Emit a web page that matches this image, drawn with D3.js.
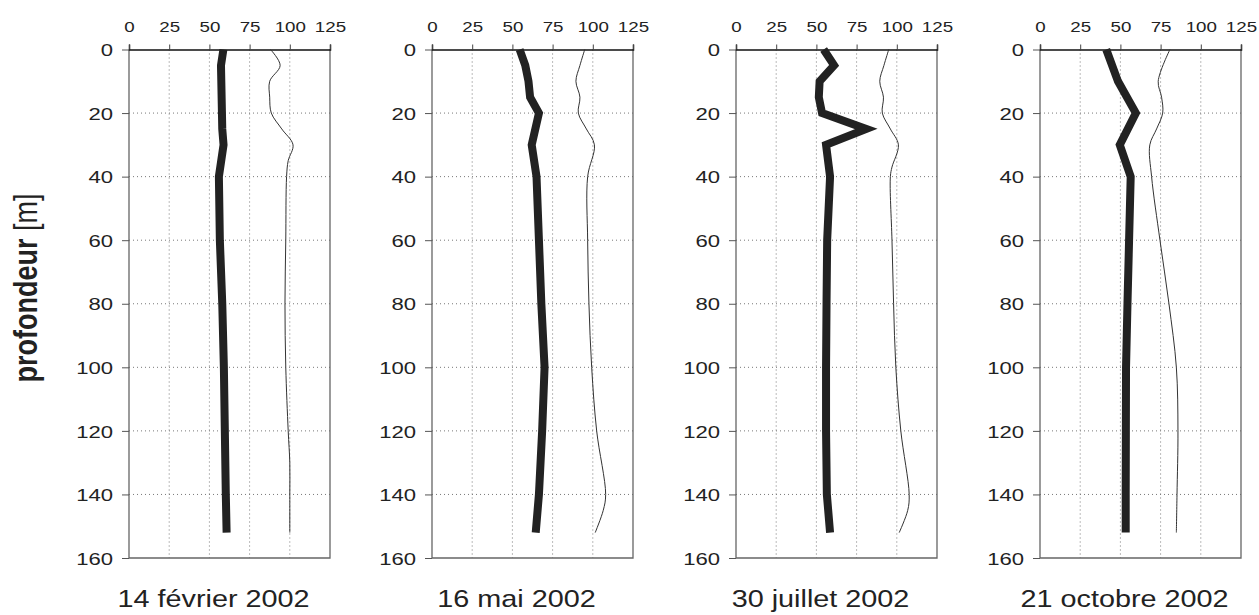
<!DOCTYPE html>
<html>
<head>
<meta charset="utf-8">
<script src="https://cdn.jsdelivr.net/npm/d3@7"></script>
<style>
  html, body { margin: 0; padding: 0; background: #fff; }
  svg { display: block; }
  text { font-family: "Liberation Sans", Arial, sans-serif; fill: #222; }
</style>
</head>
<body>
<svg id="chart" width="1259" height="615"></svg>
<script>
// Sampling depths (m)
const thickDepths1 = [0, 5, 10, 20, 25, 30, 40, 60, 80, 100, 120, 140, 152];
const thickDepths2 = [0, 5, 10, 15, 20, 30, 40, 60, 80, 100, 120, 140, 152];
const thickDepths3 = [0, 5, 10, 15, 20, 25, 30, 40, 60, 80, 100, 120, 140, 152];
const thickDepths4 = [0, 10, 20, 30, 40, 60, 80, 100, 120, 140, 152];

const thinDepths1 = [0, 5, 10, 15, 20, 25, 30, 35, 40, 60, 80, 100, 120, 130, 140, 152];
const thinDepths2 = [0, 5, 10, 15, 20, 25, 30, 40, 60, 80, 100, 120, 140, 145, 152];
const thinDepths3 = [0, 5, 10, 15, 20, 25, 30, 37, 40, 60, 80, 100, 120, 140, 145, 152];
const thinDepths4 = [0, 10, 15, 20, 25, 30, 40, 60, 80, 100, 120, 140, 152];

// Profile values (thick curve)
const thickFeb = [58.7, 57.2, 57.4, 57.8, 58, 58.8, 55.9, 56.5, 58, 59, 59.6, 60.2, 60.7];
const thickMay = [54.5, 58, 60, 61, 66.5, 62, 65, 66.5, 68, 70, 68.5, 66.5, 64.5];
const thickJul = [54.5, 61, 52, 51.5, 53.5, 81, 56, 58.5, 56.7, 56.3, 56, 56, 56.5, 58.5];
const thickOct = [41.2, 48.5, 59.6, 49.6, 56.4, 55.4, 54.4, 53.5, 53.4, 53.3, 53.3];

// Profile values (thin curve)
const thinFeb = [88, 94, 87.5, 87.5, 88.5, 95, 102, 99, 98, 97.5, 97, 97.5, 99, 100, 100, 100];
const thinMay = [95, 92, 89.5, 92, 91, 96, 101, 96.8, 96.8, 97.6, 99.3, 102.4, 108, 106.5, 101.5];
const thinJul = [95, 92, 89.4, 91.7, 91, 96, 101, 97, 96, 97, 98, 99.4, 102.5, 107.7, 106.8, 101.5];
const thinOct = [80.8, 73.5, 75.6, 76.3, 72.5, 68.3, 69.4, 74.6, 80.2, 84.8, 85.8, 85.2, 84.8];

const panelTitles = ["14 février 2002", "16 mai 2002", "30 juillet 2002", "21 octobre 2002"];
const xTicks = [0, 25, 50, 75, 100, 125];
const yTicks = [0, 20, 40, 60, 80, 100, 120, 140, 160];

const panels = [
  { title: panelTitles[0], thick: [thickDepths1, thickFeb], thin: [thinDepths1, thinFeb] },
  { title: panelTitles[1], thick: [thickDepths2, thickMay], thin: [thinDepths2, thinMay] },
  { title: panelTitles[2], thick: [thickDepths3, thickJul], thin: [thinDepths3, thinJul] },
  { title: panelTitles[3], thick: [thickDepths4, thickOct], thin: [thinDepths4, thinOct] }
];

const svg = d3.select("#chart");
const panelLeft = [129, 432, 736, 1040];
const plotW = 201, plotTop = 49.5, plotBottom = 558;
const stretch = 1.25; // horizontal widening of lettering

const y = d3.scaleLinear().domain([0, 160]).range([plotTop, plotBottom]);

// Vertical axis title
svg.append("text")
  .attr("transform", `translate(37,288) scale(${stretch},1) rotate(-90)`)
  .attr("text-anchor", "middle")
  .style("font-size", "27px")
  .call(t => {
    t.append("tspan").style("font-weight", "bold").text("profondeur");
    t.append("tspan").text(" [m]");
  });

panels.forEach((p, i) => {
  const x0 = panelLeft[i];
  const x = d3.scaleLinear().domain([0, 125]).range([x0, x0 + plotW]);
  const g = svg.append("g");

  // dotted grid
  g.append("g").selectAll("line.v")
    .data(xTicks.filter(v => v > 0 && v < 125))
    .join("line")
    .attr("x1", d => x(d)).attr("x2", d => x(d))
    .attr("y1", y(0)).attr("y2", y(160))
    .attr("stroke", "#777").attr("stroke-width", 1)
    .attr("stroke-dasharray", "1,3");
  g.append("g").selectAll("line.h")
    .data(yTicks.filter(v => v > 0 && v < 160))
    .join("line")
    .attr("x1", x(0)).attr("x2", x(125))
    .attr("y1", d => y(d)).attr("y2", d => y(d))
    .attr("stroke", "#777").attr("stroke-width", 1)
    .attr("stroke-dasharray", "1,3");

  // frame
  g.append("path")
    .attr("d", `M${x(0)},${y(0)}V${y(160)}H${x(125)}V${y(0)}`)
    .attr("fill", "none").attr("stroke", "#666").attr("stroke-width", 1.3);

  // top axis
  const top = d3.axisTop(x).tickValues(xTicks).tickSize(5).tickFormat(d3.format("d"));
  const gTop = g.append("g").attr("transform", `translate(0,${y(0)})`).call(top);
  gTop.select(".domain").attr("stroke", "#111").attr("stroke-width", 1.5);
  gTop.selectAll(".tick line").attr("stroke", "#444");
  gTop.selectAll(".tick text")
    .attr("y", 0)
    .attr("dy", 0)
    .attr("x", 0)
    .attr("transform", `translate(0,-17.5) scale(${stretch},1)`)
    .style("font-size", "15px")
    .style("font-family", "'Liberation Sans', Arial, sans-serif")
    .attr("fill", "#222");

  // left axis
  const left = d3.axisLeft(y).tickValues(yTicks).tickSize(7).tickFormat(d3.format("d"));
  const gLeft = g.append("g").attr("transform", `translate(${x(0)},0)`).call(left);
  gLeft.select(".domain").remove();
  gLeft.selectAll(".tick line").attr("stroke", "#555");
  gLeft.selectAll(".tick text")
    .attr("x", 0)
    .attr("dy", "0.36em")
    .attr("transform", `translate(-16,0) scale(1.3,1)`)
    .style("font-size", "17px")
    .style("font-family", "'Liberation Sans', Arial, sans-serif")
    .attr("fill", "#222");

  // thin profile
  const thinPts = p.thin[0].map((d, k) => [p.thin[1][k], d]);
  g.append("path")
    .datum(thinPts)
    .attr("d", d3.line().x(d => x(d[0])).y(d => y(d[1])).curve(d3.curveCatmullRom.alpha(0.5)))
    .attr("fill", "none").attr("stroke", "#333").attr("stroke-width", 1);

  // thick profile
  const thickPts = p.thick[0].map((d, k) => [p.thick[1][k], d]);
  g.append("path")
    .datum(thickPts)
    .attr("d", d3.line().x(d => x(d[0])).y(d => y(d[1])))
    .attr("fill", "none").attr("stroke", "#222").attr("stroke-width", 8)
    .attr("stroke-linejoin", "miter").attr("stroke-linecap", "butt");

  // date caption
  svg.append("text")
    .attr("transform", `translate(${x0 + plotW / 2 - 16},607) scale(1.2,1)`)
    .attr("text-anchor", "middle")
    .style("font-size", "24px")
    .text(p.title);
});
</script>
</body>
</html>
